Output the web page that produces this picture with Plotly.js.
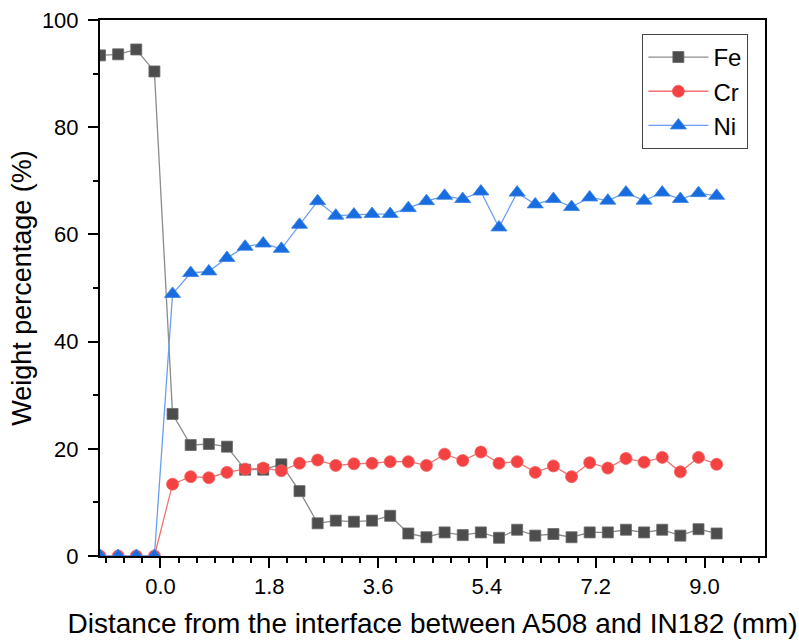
<!DOCTYPE html>
<html>
<head>
<meta charset="utf-8">
<script src="https://cdn.plot.ly/plotly-3.0.1.min.js"></script>
<style>html,body{margin:0;padding:0;background:#fff;}#chart{width:799px;height:643px;}</style>
</head>
<body>
<div id="chart"></div>
<script>
// Distance from interface (mm)
var distance = [-1.0, -0.7, -0.4, -0.1, 0.2, 0.5, 0.8, 1.1, 1.4, 1.7, 2.0, 2.3, 2.6, 2.9, 3.2, 3.5, 3.8, 4.1, 4.4, 4.7, 5.0, 5.3, 5.6, 5.9, 6.2, 6.5, 6.8, 7.1, 7.4, 7.7, 8.0, 8.3, 8.6, 8.9, 9.2];
var fe = [93.4, 93.6, 94.5, 90.4, 26.5, 20.7, 20.9, 20.4, 16.1, 16.1, 17.1, 12.1, 6.1, 6.6, 6.4, 6.6, 7.5, 4.2, 3.5, 4.4, 3.9, 4.4, 3.4, 4.9, 3.8, 4.1, 3.5, 4.4, 4.4, 4.9, 4.4, 4.9, 3.8, 5.0, 4.2];
var cr = [0, 0, 0, 0, 13.4, 14.8, 14.6, 15.6, 16.2, 16.4, 15.9, 17.3, 17.9, 16.9, 17.2, 17.3, 17.6, 17.6, 16.9, 19.0, 17.8, 19.4, 17.3, 17.6, 15.6, 16.8, 14.8, 17.4, 16.4, 18.2, 17.5, 18.4, 15.7, 18.4, 17.1];
var ni = [0, 0, 0, 0, 48.9, 52.8, 53.1, 55.6, 57.7, 58.3, 57.3, 61.8, 66.2, 63.5, 63.7, 63.8, 63.8, 64.9, 66.2, 67.2, 66.6, 68.0, 61.3, 67.8, 65.6, 66.6, 65.1, 66.9, 66.3, 67.8, 66.3, 67.8, 66.6, 67.7, 67.2];
var seriesNames = ['Fe', 'Cr', 'Ni'];
var xTicks = [0.0, 1.8, 3.6, 5.4, 7.2, 9.0];
var xTickText = ['0.0', '1.8', '3.6', '5.4', '7.2', '9.0'];
var yTicks = [0, 20, 40, 60, 80, 100];

var FONT = 'Liberation Sans, Arial, sans-serif';

var traces = [
  {x: distance, y: fe, name: seriesNames[0], type: 'scatter', mode: 'lines+markers', legendgroup: 'a',
   line: {color: '#8c8c8c', width: 1.3},
   marker: {symbol: 'square', size: 11, color: '#4d4d4d', line: {color: '#6a6a6a', width: 0.8}}},
  {x: distance, y: cr, name: seriesNames[1], type: 'scatter', mode: 'lines+markers', legendgroup: 'b',
   line: {color: '#f47272', width: 1.3},
   marker: {symbol: 'circle', size: 12, color: '#f44242', line: {color: '#f46060', width: 0.8}}},
  {x: distance, y: ni, name: seriesNames[2], type: 'scatter', mode: 'lines+markers', legendgroup: 'c',
   line: {color: '#6a9ff0', width: 1.3},
   marker: {symbol: 'triangle-up', size: 14, color: '#176ce0', line: {color: '#3a82e6', width: 0.8}}}
];

var layout = {
  width: 799, height: 643,
  margin: {l: 100, r: 34, t: 20, b: 87},
  paper_bgcolor: '#ffffff', plot_bgcolor: '#ffffff',
  font: {family: FONT, size: 22, color: '#000'},
  showlegend: true,
  legend: {x: 0.975, y: 0.974, xanchor: 'right', yanchor: 'top',
    bgcolor: '#ffffff', bordercolor: '#444', borderwidth: 1,
    font: {family: FONT, size: 24, color: '#000'},
    traceorder: 'grouped', tracegroupgap: 0, itemwidth: 60},
  xaxis: {
    range: [-1.0, 10.0], showgrid: false, zeroline: false,
    tickmode: 'array', tickvals: xTicks, ticktext: xTickText,
    ticks: 'outside', ticklen: 10, tickwidth: 2, tickcolor: '#000',
    showline: true, linecolor: '#000', linewidth: 2, mirror: true,
    ticklabelstandoff: 0,
    minor: {dtick: 0.3, tick0: 0, ticks: 'outside', ticklen: 5, tickwidth: 2, tickcolor: '#000', showgrid: false},
    tickfont: {family: FONT, size: 22, color: '#000'},
    title: {text: 'Distance from the interface between A508 and IN182 (mm)', font: {family: FONT, size: 28, color: '#000'}, standoff: 15}
  },
  yaxis: {
    range: [0, 100], showgrid: false, zeroline: false,
    tickmode: 'array', tickvals: yTicks,
    ticks: 'outside', ticklen: 10, tickwidth: 2, tickcolor: '#000',
    showline: true, linecolor: '#000', linewidth: 2, mirror: true,
    ticklabelstandoff: 5,
    minor: {dtick: 10, tick0: 0, ticks: 'outside', ticklen: 5, tickwidth: 2, tickcolor: '#000', showgrid: false},
    tickfont: {family: FONT, size: 22, color: '#000'},
    title: {text: 'Weight percentage (%)', font: {family: FONT, size: 27, color: '#000'}, standoff: 2}
  }
};

Plotly.newPlot('chart', traces, layout, {displayModeBar: false, staticPlot: true});
</script>
</body>
</html>
